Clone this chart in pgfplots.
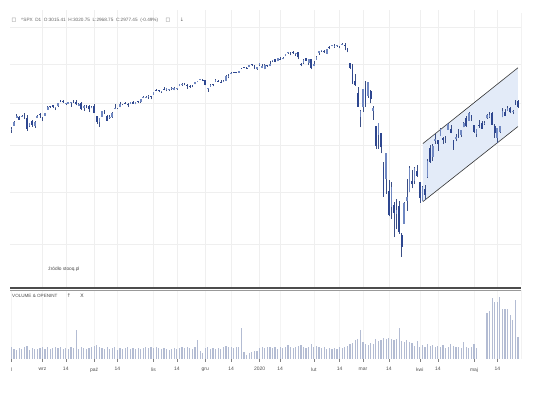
\documentclass[border=0pt]{standalone}
\usepackage{fontspec}
\setmainfont{Liberation Sans}
\newfontfamily\symfont{DejaVu Sans}
\usepackage{pgfplots}
\usepackage{pgfplotstable}
\pgfplotsset{compat=1.18}
\definecolor{upc}{HTML}{7088C2}
\definecolor{dnc}{HTML}{2E4790}
\definecolor{wickc}{HTML}{3B4F86}
\definecolor{volc}{HTML}{B3BCD3}
\definecolor{chfill}{HTML}{E3EBF8}
\definecolor{gridc}{HTML}{EFEFEF}
\definecolor{txtc}{HTML}{666666}

\pgfplotstableread{
i O H L C V
0 2846 2856 2825 2848 12
1 2864 2893 2864 2889 10
2 2913 2932 2913 2924 9
3 2919 2923 2899 2901 11
4 2922 2928 2917 2924 10
5 2931 2939 2904 2923 12
6 2911 2927 2834 2847 13
7 2866 2879 2857 2878 9
8 2894 2899 2860 2869 11
9 2861 2890 2853 2888 10
10 2910 2930 2910 2925 10
11 2937 2941 2913 2926 11
12 2910 2914 2891 2906 12
13 2924 2938 2921 2938 10
14 2960 2985 2960 2976 12
15 2980 2985 2972 2979 10
16 2989 2989 2969 2978 11
17 2971 2979 2958 2979 12
18 2982 3002 2977 3001 11
19 3019 3021 3004 3010 12
20 3013 3017 3003 3007 10
21 2997 3003 2991 2998 11
22 2996 3006 2994 3006 10
23 3001 3008 2978 3007 12
24 3010 3022 3004 3007 11
25 3008 3017 2986 2992 29
26 2984 2999 2982 2992 10
27 3003 3008 2957 2967 12
28 2969 2990 2953 2985 11
29 2986 2987 2968 2978 10
30 2985 2988 2946 2962 11
31 2968 2983 2968 2977 12
32 2984 2993 2938 2940 13
33 2925 2925 2874 2888 14
34 2885 2911 2856 2911 12
35 2919 2953 2918 2952 11
36 2944 2959 2935 2939 10
37 2920 2926 2892 2893 12
38 2911 2929 2907 2919 10
39 2918 2949 2913 2938 11
40 2964 2993 2964 2970 12
41 2966 2972 2963 2966 9
42 2974 3004 2974 2996 11
43 2990 2997 2986 2990 10
44 3001 3009 2992 2998 11
45 2996 3000 2976 2986 12
46 2997 3008 2995 3007 10
47 3010 3015 2996 2996 11
48 2994 3005 2992 3005 10
49 3015 3016 3000 3010 11
50 3004 3028 3001 3023 10
51 3032 3044 3032 3039 11
52 3036 3047 3034 3037 12
53 3039 3050 3026 3047 11
54 3047 3047 3023 3038 12
55 3051 3067 3051 3067 11
56 3079 3085 3074 3078 12
57 3080 3084 3068 3075 11
58 3075 3078 3065 3077 10
59 3088 3098 3080 3085 11
60 3082 3094 3073 3093 10
61 3081 3088 3077 3087 9
62 3089 3103 3081 3092 10
63 3084 3098 3079 3094 11
64 3091 3097 3082 3097 10
65 3107 3121 3107 3120 11
66 3118 3124 3110 3122 12
67 3128 3128 3111 3120 11
68 3115 3119 3091 3108 12
69 3108 3111 3096 3104 11
70 3112 3113 3099 3110 10
71 3118 3134 3118 3134 12
72 3135 3142 3131 3141 19
73 3145 3154 3143 3154 8
74 3148 3150 3139 3141 6
75 3143 3144 3111 3114 11
76 3087 3094 3070 3093 12
77 3103 3120 3103 3113 10
78 3119 3120 3104 3117 11
79 3134 3150 3134 3146 10
80 3142 3148 3136 3136 11
81 3135 3143 3127 3133 10
82 3136 3144 3134 3142 12
83 3141 3176 3138 3169 13
84 3167 3182 3156 3169 12
85 3183 3198 3183 3191 12
86 3195 3198 3191 3193 11
87 3196 3199 3189 3191 12
88 3192 3206 3192 3205 12
89 3224 3226 3217 3221 31
90 3227 3228 3221 3224 7
91 3226 3227 3222 3223 4
92 3227 3240 3227 3240 6
93 3247 3248 3235 3240 7
94 3240 3240 3216 3221 8
95 3215 3232 3213 3231 8
96 3245 3258 3235 3258 11
97 3226 3247 3222 3235 12
98 3218 3247 3215 3246 11
99 3242 3245 3233 3237 12
100 3238 3267 3236 3253 12
101 3267 3275 3263 3275 11
102 3281 3282 3261 3265 12
103 3271 3288 3268 3288 10
104 3285 3294 3278 3283 12
105 3282 3299 3281 3289 11
106 3303 3317 3302 3317 12
107 3323 3330 3318 3330 14
108 3321 3330 3307 3321 12
109 3331 3337 3320 3322 11
110 3315 3326 3302 3326 12
111 3334 3334 3281 3295 13
112 3248 3258 3234 3244 14
113 3255 3285 3249 3276 12
114 3289 3293 3271 3273 11
115 3256 3285 3242 3284 12
116 3282 3282 3214 3226 15
117 3235 3268 3235 3249 12
118 3280 3306 3280 3298 13
119 3324 3337 3313 3335 12
120 3344 3347 3334 3346 11
121 3335 3342 3323 3328 12
122 3319 3352 3317 3352 10
123 3366 3375 3352 3358 11
124 3371 3381 3370 3379 10
125 3365 3385 3360 3374 11
126 3378 3380 3366 3380 10
127 3370 3375 3356 3370 12
128 3381 3393 3379 3386 11
129 3380 3390 3342 3373 12
130 3360 3360 3328 3338 13
131 3258 3259 3215 3226 15
132 3238 3247 3118 3128 16
133 3140 3182 3108 3116 19
134 3063 3098 2977 2979 20
135 2916 2960 2855 2954 29
136 2974 3091 2946 3090 17
137 3096 3137 2977 3003 15
138 3046 3131 3034 3130 14
139 3075 3083 2999 3024 16
140 2954 2985 2901 2972 15
141 2863 2863 2734 2747 20
142 2813 2883 2734 2882 18
143 2825 2825 2707 2741 19
144 2631 2660 2478 2481 21
145 2569 2711 2492 2711 20
146 2508 2563 2380 2386 21
147 2426 2553 2367 2529 20
148 2436 2453 2281 2398 19
149 2393 2466 2319 2409 20
150 2432 2454 2295 2305 31
151 2291 2300 2192 2237 18
152 2345 2449 2345 2447 17
153 2458 2571 2407 2476 19
154 2501 2637 2501 2630 17
155 2556 2615 2520 2541 16
156 2559 2632 2545 2627 13
157 2614 2641 2581 2585 18
158 2555 2555 2448 2471 12
159 2458 2533 2455 2527 14
160 2515 2538 2459 2489 12
161 2579 2677 2574 2664 15
162 2739 2756 2657 2659 13
163 2686 2760 2664 2750 14
164 2776 2819 2762 2790 12
165 2782 2782 2721 2762 13
166 2805 2851 2805 2846 12
167 2796 2801 2762 2783 14
168 2800 2807 2765 2800 11
169 2842 2880 2842 2875 12
170 2846 2868 2821 2823 15
171 2785 2785 2728 2737 13
172 2787 2816 2775 2799 12
173 2810 2845 2794 2798 12
174 2812 2842 2798 2837 11
175 2855 2887 2855 2878 17
176 2909 2922 2860 2863 12
177 2895 2945 2895 2940 11
178 2931 2931 2892 2912 12
179 2869 2870 2822 2831 15
180 2815 2844 2798 2843 11
181 2869 2897 2853 2868 nan
182 2883 2891 2848 2848 nan
183 2879 2892 2870 2881 nan
184 2908 2933 2906 2930 46
185 2915 2945 2909 2930 48
186 2939 2945 2870 2870 61
187 2865 2874 2794 2820 57
188 2794 2852 2767 2853 57
189 2829 2865 2822 2864 62
190 2914 2968 2914 2954 50
191 2948 2965 2922 2923 50
192 2953 2981 2953 2972 50
193 2969 2978 2938 2949 44
194 2949 2957 2933 2955 39
195 3004 3022 2988 2992 59
196 3015 3021 2969 2977 22
}\spx

\pgfplotstableread{
x p
159.2 2453
196 2860
196 3225
159.2 2762
}\chan

\begin{document}
\begin{tikzpicture}
\path[use as bounding box] (0bp,0bp) rectangle (536bp,394bp);

% ---------- price panel (log price scale, drawn as ln of the prices) ----------
\begin{axis}[
  at={(10bp,106bp)}, anchor=south west, scale only axis,
  width=511bp, height=278bp,
  xmin=-0.58, xmax=197.17,
  ymin=7.6285, ymax=8.1967,
  axis line style={draw=none},
  xtick={12,21,32,41,55,64,75,85,96,104,117,127,136,146,158,165,179,188},
  xticklabels={},
  % grid at 2250, 2500, 2750, 3000, 3250, 3500 (ln values)
  ytick={7.71869,7.82405,7.91936,8.00637,8.08641,8.16052}, yticklabels={},
  major tick length=0pt,
  xmajorgrids, ymajorgrids,
  major grid style={gridc, line width=0.5bp},
]
% channel
\addplot[fill=chfill, draw=none, forget plot] table[x=x, y expr={ln(\thisrow{p})}] {\chan} --cycle;
\addplot[draw=black!80, line width=0.6bp, forget plot] coordinates {(159.2,7.92371) (196,8.07868)};
\addplot[draw=black!80, line width=0.6bp, forget plot] coordinates {(159.2,7.80507) (196,7.95857)};
% wicks
\addplot[draw=none, mark=none, forget plot,
  error bars/.cd, y dir=plus, y explicit, error mark=none,
  error bar style={line width=0.5bp, draw=wickc}]
  table[x=i, y expr={ln(\thisrow{L})}, y error plus expr={ln(\thisrow{H})-ln(\thisrow{L})}] {\spx};
% bodies (down)
\addplot[draw=none, mark=none, forget plot,
  error bars/.cd, y dir=plus, y explicit, error mark=none,
  error bar style={line width=1.7bp, draw=dnc}]
  table[x=i, y expr={ln(\thisrow{C})}, y error plus expr={max(ln(\thisrow{O})-ln(\thisrow{C}),0)}] {\spx};
% bodies (up)
\addplot[draw=none, mark=none, forget plot,
  error bars/.cd, y dir=plus, y explicit, error mark=none,
  error bar style={line width=1.7bp, draw=upc}]
  table[x=i, y expr={ln(\thisrow{O})}, y error plus expr={max(ln(\thisrow{C})-ln(\thisrow{O}),0)}] {\spx};
\draw[gray!80, line width=0.7bp] (rel axis cs:1,0.01) -- (rel axis cs:1,0.99);
\end{axis}

% ---------- volume panel ----------
\begin{axis}[
  at={(10bp,35bp)}, anchor=south west, scale only axis,
  width=511bp, height=69bp,
  xmin=-0.58, xmax=197.17,
  ymin=0, ymax=69,
  axis line style={draw=none},
  ytick=\empty,
  xtick={0,12,21,32,41,55,64,75,85,96,104,117,127,136,146,158,165,179,188},
  xticklabels={l,wrz,14,paź,14,lis,14,gru,14,2020,14,lut,14,mar,14,kwi,14,maj,14},
  xtick pos=bottom, xtick align=outside,
  major tick length=2.5bp,
  tick style={gray, line width=0.5bp},
  xticklabel style={font=\fontsize{5}{6}\selectfont, text=black!70, yshift=-2.5bp},
  xmajorgrids,
  major grid style={gridc!70, line width=0.5bp},
]
\addplot[ycomb, volc, line width=1.2bp, mark=none] table[x=i, y=V] {\spx};
\draw[black!70, line width=1bp] (rel axis cs:0,0) -- (rel axis cs:1,0);
\draw[gray!80, line width=0.7bp] (rel axis cs:1,0) -- (rel axis cs:1,1);
\end{axis}

% panel separator
\draw[black!70, line width=1.2bp] (10bp,106bp) -- (521bp,106bp);
\draw[black!40, line width=0.6bp] (10bp,103.8bp) -- (521bp,103.8bp);

% texts
\node[anchor=center, font=\symfont\fontsize{5}{6}\selectfont, text=txtc] at (14bp,374bp) {□};
\node[anchor=west, font=\fontsize{4.7}{6}\selectfont, text=txtc, inner sep=0pt] at (21bp,374bp)
  {\textasciicircum SPX\ \ D1\ \ O:3015.41\ \ H:3020.75\ \ L:2968.75\ \ C:2977.45\ \ (-0.49\%)};
\node[anchor=center, font=\symfont\fontsize{5}{6}\selectfont, text=txtc] at (168bp,374bp) {□};
\node[anchor=center, font=\symfont\fontsize{5}{6}\selectfont, text=txtc] at (182bp,374bp) {↓};
\node[anchor=center, font=\fontsize{4.8}{6}\selectfont, text=black!70] at (64bp,125bp) {źródło stooq.pl};
\node[anchor=west, font=\fontsize{4.6}{6}\selectfont, text=black!70, inner sep=0pt] at (12bp,98bp) {VOLUME \& OPENINT};
\node[anchor=center, font=\symfont\fontsize{5}{6}\selectfont, text=black!70] at (69bp,98bp) {↑};
\node[anchor=center, font=\fontsize{5}{6}\selectfont, text=black!80] at (82bp,98bp) {X};
\end{tikzpicture}
\end{document}
